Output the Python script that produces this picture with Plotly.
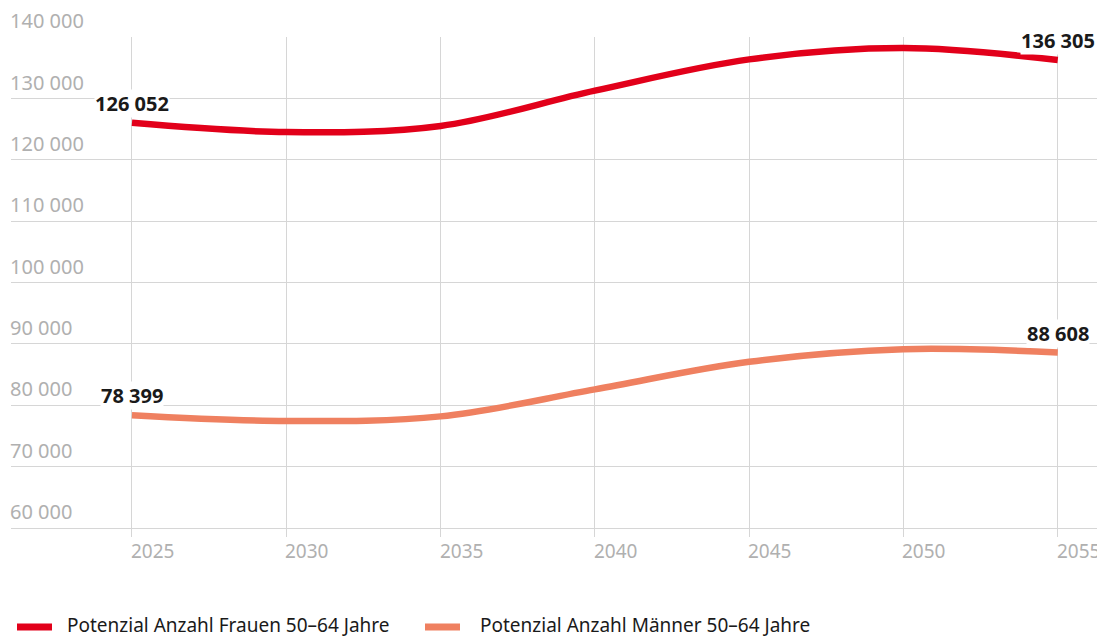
import plotly.graph_objects as go

years = [2025, 2030, 2035, 2040, 2045, 2050, 2055]
frauen = [126052, 124550, 125550, 131300, 136400, 138250, 136305]
maenner = [78399, 77450, 78200, 82600, 87100, 89150, 88608]
names = ["Potenzial Anzahl Frauen 50–64 Jahre", "Potenzial Anzahl Männer 50–64 Jahre"]
colors = ["#E2001A", "#EF8060"]
y_ticks = [60000, 70000, 80000, 90000, 100000, 110000, 120000, 130000, 140000]
x_ticks = [2025, 2030, 2035, 2040, 2045, 2050, 2055]

def fmt(v):
    return f"{v:,}".replace(",", " ")

FONT = "Noto Sans"
GRID = "#d6d6d6"
TICKC = "#b0b0b0"

W, H = 1097, 629
ML, MT, MB, MR = 3, 29, 109, 0
PW = W - ML - MR
PH = H - MT - MB

fig = go.Figure()
for vals, name, col in zip([frauen, maenner], names, colors):
    fig.add_trace(go.Scatter(
        x=years, y=vals, name=name, mode="lines",
        line=dict(color=col, width=6.5, shape="spline", smoothing=1.0),
        hoverinfo="skip", cliponaxis=False, showlegend=False))

ann = []
for v in y_ticks:
    ann.append(dict(x=0, xref="paper", y=v, yref="y", text=fmt(v), showarrow=False,
                    xanchor="left", yanchor="bottom", yshift=1, xshift=-3,
                    font=dict(family=FONT, size=20, color=TICKC)))
for t in x_ticks:
    ann.append(dict(x=t, xref="x", y=0, yref="paper", text=str(t), showarrow=False,
                    xanchor="left", yanchor="top", yshift=-8, xshift=-3,
                    font=dict(family=FONT, size=19, color=TICKC)))
for vals in [frauen, maenner]:
    for idx in [0, -1]:
        ann.append(dict(x=years[idx], y=vals[idx], text=fmt(vals[idx]), showarrow=False,
                        xanchor="center", yanchor="bottom", yshift=5,
                        bgcolor="white", borderpad=0,
                        font=dict(family=FONT, size=20, color="#1a1a1a", weight="bold")))

# manual legend (positions in figure pixels -> paper coords)
def px(fx):
    return (fx - ML) / PW

def py(fy):
    return (MT + PH - fy) / PH

LEG_Y = 617
legend_items = [(9, 44, 57), (417, 452, 470)]
shapes = []
for (x0, x1, tx), name, col in zip(legend_items, names, colors):
    shapes.append(dict(type="line", xref="paper", yref="paper",
                       x0=px(x0), x1=px(x1), y0=py(LEG_Y + 2), y1=py(LEG_Y + 2),
                       line=dict(color=col, width=7)))
    ann.append(dict(x=px(tx), xref="paper", y=py(LEG_Y), yref="paper", text=name,
                    showarrow=False, xanchor="left", yanchor="middle",
                    font=dict(family=FONT, size=19, color="#1a1a1a")))

fig.update_layout(
    width=W, height=H,
    margin=dict(l=ML, r=MR, t=MT, b=MB, autoexpand=False),
    paper_bgcolor="white", plot_bgcolor="white",
    showlegend=False,
    xaxis=dict(range=[2021.08, 2056.53], tickvals=x_ticks, showticklabels=False,
               showgrid=True, gridcolor=GRID, gridwidth=1, zeroline=False,
               ticks="outside", ticklen=8, tickcolor=GRID,
               showline=True, linecolor=GRID, linewidth=1),
    yaxis=dict(range=[60000, 140050], tickvals=y_ticks, showticklabels=False,
               showgrid=True, gridcolor=GRID, gridwidth=1, zeroline=False, showline=False),
    annotations=ann,
    shapes=shapes,
    font=dict(family=FONT),
)

fig.write_html("out.html")
